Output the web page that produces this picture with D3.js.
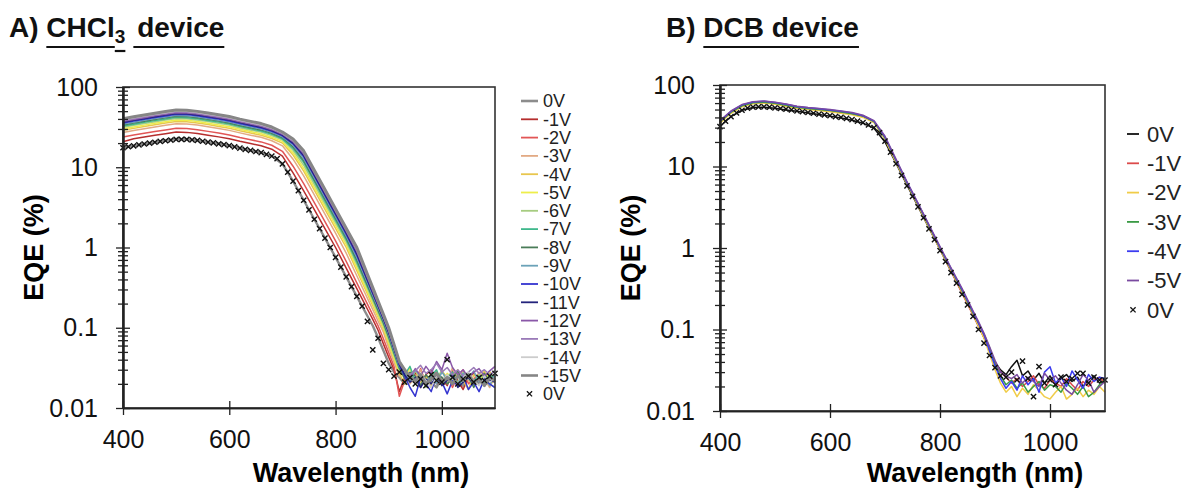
<!DOCTYPE html>
<html lang="en">
<head>
  <meta charset="UTF-8">
  <title>EQE vs wavelength</title>
  <script src="https://d3js.org/d3.v7.min.js"></script>
  <style>
    body { margin: 0; background: #fff; }
    svg { display: block; font-family: 'Liberation Sans', Arial, sans-serif; }
  </style>
</head>
<body>
  <svg id="chart" width="1197" height="489"></svg>

  <script>
    // wavelength grid of the line series (nm)
    const wavelength = [400,420,440,460,480,500,520,540,560,580,600,620,640,660,680,700,720,740,760,780,800,820,840,860,
      870,880,890,900,910,920,930,940,950,960,970,980,990,1000,1010,1020,1030,1040,1050,1060,1070,1080,1090,1100];
    // wavelength grid of the 0V marker series (nm)
    const wavelengthMarks = [400,410,420,430,440,450,460,470,480,490,500,510,520,530,540,550,560,570,580,590,600,610,620,630,640,
      650,660,670,680,690,700,710,720,730,740,750,760,770,780,790,800,810,820,830,840,850,860,870,880,890,900,910,920,930,940,
      950,960,970,980,990,1000,1010,1020,1030,1040,1050,1060,1070,1080,1090,1100];

    const xTicks = [400, 600, 800, 1000];
    const xTickLabels = ["400", "600", "800", "1000"];
    const yTicks = [0.01, 0.1, 1, 10, 100];
    const yTickLabels = ["0.01", "0.1", "1", "10", "100"];

    // ---- A) CHCl3 device, EQE (%) ----
    const voltsA = ["0V","-1V","-2V","-3V","-4V","-5V","-6V","-7V","-8V","-9V","-10V","-11V","-12V","-13V","-14V","-15V"];
    const a0V = [17.5,18.5,19.5,20.5,21.5,22.5,22.3,21.6,20.6,19.6,18.6,17.3,16.2,15.2,13.8,11.0,6.7,3.88,2.25,1.31,0.755,0.43,0.246,0.14,
      .106,.075,.052,.036,.028,.024,.02,.026,.022,.019,.025,.021,.018,.024,.02,.027,.021,.019,.025,.022,.02,.026,.021,.024];
    const a1V = [20.8,22.6,23.8,25,26.2,27.5,27.2,26.4,25.1,23.9,22.7,21.1,19.8,18.5,16.8,13.8,8.5,5.08,2.96,1.72,1.0,0.554,0.307,0.17,
      .127,.093,.063,.043,.03,.016,.024,.021,.028,.018,.026,.03,.02,.023,.019,.029,.022,.017,.024,.027,.021,.02,.028,.022];
    const a2V = [23.8,25.2,26.5,27.9,29.2,30.6,30.3,29.4,28,26.7,25.3,23.5,22,20.7,18.8,15.8,10.3,6.27,3.63,2.1,1.21,0.67,0.363,0.197,
      .145,.106,.073,.049,.033,.014,.022,.027,.02,.031,.019,.024,.028,.021,.026,.018,.025,.03,.02,.023,.027,.019,.024,.021];
    const a3V = [27.1,28.7,30.2,31.8,33.3,34.9,34.6,33.5,31.9,30.4,28.8,26.8,25.1,23.6,21.4,18.5,12.6,7.8,4.52,2.61,1.51,0.85,0.445,0.232,
      .168,.121,.088,.056,.037,.025,.029,.02,.024,.03,.022,.018,.027,.023,.021,.032,.019,.026,.022,.02,.028,.023,.018,.025];
    const a4V = [28.9,30.5,32.2,33.8,35.5,37.1,36.8,35.6,34,32.3,30.7,28.5,26.7,25.1,22.8,20,14.2,8.96,5.18,2.99,1.73,1.0,0.513,0.263,
      .188,.135,.096,.062,.041,.027,.02,.026,.03,.021,.025,.019,.023,.029,.024,.02,.027,.022,.017,.026,.023,.029,.02,.022];
    const a5V = [30.1,31.8,33.5,35.3,37,38.7,38.4,37.2,35.4,33.7,32,29.8,27.9,26.1,23.7,21,15.2,9.7,5.62,3.25,1.88,1.09,0.557,0.28,
      .199,.141,.1,.065,.042,.028,.024,.031,.022,.026,.02,.028,.024,.019,.027,.023,.03,.021,.025,.02,.026,.022,.028,.021];
    const a6V = [31.5,33.3,35.1,36.9,38.7,40.5,40.1,38.9,37.1,35.3,33.5,31.1,29.2,27.4,24.8,22,16.3,10.6,6.1,3.53,2.04,1.18,0.614,0.306,
      .215,.152,.107,.07,.045,.03,.025,.021,.029,.024,.018,.027,.022,.03,.02,.025,.021,.028,.023,.019,.026,.024,.02,.018];
    const a7V = [32.6,34.4,36.3,38.1,40,41.9,41.5,40.2,38.3,36.5,34.6,32.2,30.1,28.3,25.7,22.6,17.2,11.5,6.6,3.79,2.18,1.25,0.658,0.328,
      .231,.163,.115,.076,.048,.031,.026,.033,.022,.027,.021,.025,.03,.02,.024,.028,.019,.023,.027,.022,.025,.02,.026,.023];
    const a8V = [33.6,35.5,37.4,39.4,41.3,43.2,42.8,41.5,39.6,37.6,35.7,33.2,31.1,29.2,26.5,23.3,18,12.1,6.97,4.0,2.3,1.32,0.698,0.34,
      .237,.165,.116,.077,.049,.032,.023,.028,.025,.019,.026,.022,.027,.024,.02,.023,.029,.021,.025,.018,.024,.027,.021,.025];
    const a9V = [34.5,36.4,38.4,40.4,42.4,44.3,43.9,42.6,40.6,38.6,36.6,34.1,31.9,29.9,27.2,23.9,18.8,12.8,7.37,4.23,2.43,1.39,0.75,0.365,
      .255,.178,.124,.083,.052,.033,.027,.022,.03,.025,.021,.026,.02,.028,.023,.025,.02,.027,.024,.029,.021,.024,.019,.026];
    const a10V = [35.5,37.6,39.6,41.6,43.6,45.7,45.3,43.8,41.8,39.8,37.8,35.1,32.9,30.9,28,24.6,19.6,13.6,7.79,4.47,2.57,1.47,0.803,0.387,
      .268,.186,.129,.087,.055,.034,.025,.018,.014,.024,.02,.016,.026,.021,.015,.022,.019,.025,.017,.021,.016,.023,.02,.018];
    const a11V = [36.4,38.5,40.6,42.6,44.7,46.8,46.4,44.9,42.8,40.8,38.7,36,33.7,31.6,28.7,25.2,20,14,8.0,4.6,2.64,1.52,0.83,0.395,
      .273,.189,.13,.087,.055,.035,.026,.021,.024,.018,.023,.02,.025,.019,.022,.026,.018,.021,.024,.02,.023,.019,.022,.021];
    const a12V = [37.3,39.4,41.5,43.7,45.8,47.9,47.5,46,43.9,41.7,39.6,36.8,34.5,32.4,29.4,25.8,20.8,14.7,8.47,4.86,2.79,1.6,0.893,0.42,
      .288,.197,.135,.091,.057,.036,.029,.024,.031,.025,.033,.027,.038,.03,.048,.032,.026,.03,.024,.028,.031,.025,.029,.033];
    const a13V = [38.2,40.3,42.5,44.7,46.9,49.1,48.6,47.1,44.9,42.7,40.5,37.7,35.3,33.1,30.1,26.3,21.3,15.2,8.7,5.0,2.87,1.65,0.927,0.436,
      .299,.205,.14,.095,.059,.038,.03,.026,.029,.034,.027,.03,.036,.028,.032,.026,.03,.025,.028,.032,.027,.03,.026,.029];
    const a14V = [39,41.3,43.5,45.7,47.9,50.2,49.7,48.2,45.9,43.7,41.5,38.6,36.1,33.9,30.8,26.8,21.8,15.6,8.93,5.13,2.95,1.69,0.96,0.447,
      .309,.208,.141,.096,.06,.038,.031,.024,.02,.027,.022,.018,.025,.021,.026,.023,.02,.024,.028,.022,.019,.025,.021,.023];
    const a15V = [40.3,42.6,44.9,47.2,49.5,51.8,51.3,49.7,47.4,45.1,42.8,39.8,37.3,35,31.7,27.5,22.5,16,9.2,5.3,3.03,1.74,1.0,0.464,
      .316,.215,.147,.1,.062,.038,.03,.024,.022,.026,.02,.023,.027,.021,.024,.02,.025,.022,.026,.021,.023,.019,.024,.022];
    const aMarks0V = [17.5,18,18.5,19,19.5,20,20.5,21,21.4,21.8,22.2,22.3,22.2,21.9,21.6,21.1,20.6,20.1,19.6,19.1,
      18.6,17.9,17.3,16.7,16.2,15.7,15.2,14.5,13.8,12.8,11.0,8.7,6.7,5.1,3.88,2.95,2.25,1.72,1.31,1.0,
      0.755,0.57,0.43,0.325,0.246,0.186,0.12,0.053,0.074,0.036,0.03,0.025,0.028,0.021,0.024,0.02,0.023,0.019,0.026,0.022,
      0.021,0.04,0.024,0.02,0.023,0.025,0.021,0.024,0.022,0.025,0.027];

    // ---- B) DCB device, EQE (%) ----
    const voltsB = ["0V","-1V","-2V","-3V","-4V","-5V"];
    const b0V = [31,41,49,53,53.5,52,49.5,47.5,45.5,43.5,41.5,39.5,37,34,29.5,20,11,5.9,3.25,1.75,0.96,0.52,0.29,0.155,
      .11,.08,.055,.04,.032,.028,.035,.042,.027,.031,.024,.029,.022,.027,.021,.025,.028,.023,.026,.02,.024,.027,.022,.025];
    const b1V = [35,46,55,60,61,59,56,53,51,49.5,48,46,44,41,35,22,11.5,6.2,3.4,1.8,0.97,0.52,0.28,0.15,
      .11,.08,.058,.04,.03,.026,.022,.025,.02,.023,.027,.021,.019,.024,.022,.02,.025,.021,.018,.023,.02,.024,.026,.022];
    const b2V = [34,45,54,59,60,58,55,52,50,48.5,47,45,43,40,34.5,21.5,11.2,6.1,3.3,1.78,0.96,0.53,0.29,0.155,
      .11,.078,.05,.032,.022,.017,.02,.015,.019,.016,.021,.018,.015,.014,.017,.02,.014,.016,.019,.015,.018,.016,.02,.017];
    const b3V = [35.5,46.5,55.5,60.5,61.5,59.5,56.5,53.5,51.5,50,48.5,46.5,44.5,41.5,35.5,22.5,11.8,6.3,3.45,1.85,1.0,0.55,0.3,0.16,
      .12,.088,.06,.038,.027,.021,.024,.019,.022,.017,.02,.023,.018,.021,.02,.017,.022,.019,.016,.02,.015,.017,.021,.024];
    const b4V = [36,47.5,57,62,63,61,58,54.5,52.5,51,49.5,47.5,45.5,42,36,23,12,6.4,3.5,1.9,1.02,0.56,0.31,0.165,
      .12,.086,.055,.036,.025,.019,.023,.018,.027,.021,.025,.017,.03,.035,.022,.026,.02,.031,.024,.019,.028,.023,.026,.025];
    const b5V = [36.5,48,57.5,62.5,63.5,61.5,58.5,55,53,51.5,50,48,46,42.5,36.5,23.5,12.3,6.5,3.55,1.92,1.04,0.57,0.32,0.17,
      .125,.09,.062,.042,.03,.027,.025,.028,.022,.026,.023,.02,.029,.024,.027,.022,.018,.016,.021,.028,.024,.017,.02,.023];
    const bMarks0V = [30.8,36,41,45.5,49,52,53.5,54,54,53.5,52.5,51.5,50.5,49.5,48,47,46,45,44,43,
      42,41,40,39,37.5,36,34.5,32.5,30,26,20.5,15,10.8,7.8,5.8,4.3,3.2,2.35,1.72,1.27,
      0.93,0.68,0.5,0.37,0.27,0.2,0.145,0.1,0.068,0.048,0.034,0.027,0.026,0.03,0.024,0.041,0.025,0.015,0.035,0.022,
      0.024,0.021,0.026,0.023,0.025,0.029,0.029,0.022,0.026,0.024,0.024];

    // colours / widths (style only)
    const colorsA = ["#8c8c8c","#b52e2e","#e25656","#e2aa84","#e8c64e","#eeee4a","#a6cc80","#3fb88c","#4a7c58","#6ba2b8",
      "#3434d0","#23237c","#8a58a8","#9a7ab8","#cccccc","#868686"];
    const widthsA = [2.4,1.5,1.5,1.5,1.5,1.5,1.5,1.5,1.5,1.5,1.5,1.5,1.5,1.5,1.5,3];
    const colorsB = ["#111111","#dc4a4a","#f0cc48","#3a9a44","#3c3cf0","#7a4aa0"];
    const widthsB = [1.5,1.5,1.5,1.5,1.5,1.5];

    const svg = d3.select("#chart");
    const xMark = "M-2.6,-2.6L2.6,2.6M-2.6,2.6L2.6,-2.6";

    function drawPanel(p) {
      const x = d3.scaleLinear().domain([400, 1100]).range([p.left, p.right]);
      const y = d3.scaleLog().domain([0.01, 100]).range([p.bottom, p.top]);
      const g = svg.append("g");

      const line = d3.line().x(d => x(d[0])).y(d => y(d[1]));
      p.series.forEach((s, i) => {
        g.append("path")
          .datum(d3.zip(wavelength, s))
          .attr("d", line)
          .attr("fill", "none")
          .attr("stroke", p.colors[i])
          .attr("stroke-width", p.widths[i])
          .attr("stroke-linejoin", "round");
      });

      g.selectAll(null)
        .data(d3.zip(wavelengthMarks, p.marks))
        .join("path")
        .attr("transform", d => `translate(${x(d[0])},${y(d[1])})`)
        .attr("d", xMark)
        .attr("stroke", "#111")
        .attr("stroke-width", 1.4)
        .attr("fill", "none");

      // frame
      g.append("rect")
        .attr("x", p.left).attr("y", p.top)
        .attr("width", p.right - p.left).attr("height", p.bottom - p.top)
        .attr("fill", "none").attr("stroke", "#333").attr("stroke-width", 1.6);

      // log axis: major and minor ticks cross the axis line
      const minor = y.ticks().filter(v => Math.abs(Math.log10(v) - Math.round(Math.log10(v))) > 1e-6);
      const ax = (a, vals, size, labels) => {
        const sel = g.append("g").call(a.tickValues(vals).tickSize(size).tickSizeOuter(0)
          .tickFormat(labels ? (d, i) => labels[i] : ""));
        sel.select(".domain").attr("stroke", "#222").attr("stroke-width", 1.6);
        sel.selectAll(".tick line").attr("stroke", "#222").attr("stroke-width", 1.3);
        sel.attr("font-family", "'Liberation Sans', Arial, sans-serif").attr("font-size", 25);
        sel.selectAll("text").attr("fill", "#111");
        return sel;
      };
      ax(d3.axisLeft(y).tickPadding(18), yTicks, 7, yTickLabels).attr("transform", `translate(${p.left},0)`);
      ax(d3.axisRight(y), yTicks, 7).attr("transform", `translate(${p.left},0)`);
      ax(d3.axisLeft(y), minor, 5).attr("transform", `translate(${p.left},0)`);
      ax(d3.axisRight(y), minor, 5).attr("transform", `translate(${p.left},0)`);
      ax(d3.axisBottom(x).tickPadding(15), xTicks, 7, xTickLabels).attr("transform", `translate(0,${p.bottom})`);
      ax(d3.axisTop(x), xTicks, 7).attr("transform", `translate(0,${p.bottom})`);

      // axis titles
      svg.append("text")
        .attr("transform", `translate(${p.left - 80},${(p.top + p.bottom) / 2}) rotate(-90)`)
        .attr("text-anchor", "middle")
        .attr("font-weight", "bold").attr("font-size", 27)
        .text("EQE (%)");
      svg.append("text")
        .attr("x", p.xTitleX).attr("y", 482)
        .attr("text-anchor", "middle")
        .attr("font-weight", "bold").attr("font-size", 27)
        .text("Wavelength (nm)");

      // legend
      const lg = svg.append("g");
      p.legendNames.forEach((name, i) => {
        const ly = p.legY + i * p.legStep;
        lg.append("line")
          .attr("x1", p.legX).attr("x2", p.legX + p.legLen)
          .attr("y1", ly).attr("y2", ly)
          .attr("stroke", p.colors[i]).attr("stroke-width", p.widths[i] > 2 ? 2.6 : 1.8);
        lg.append("text")
          .attr("x", p.legX + p.legLen + p.legGap).attr("y", ly)
          .attr("dy", "0.35em").attr("font-size", p.legFont).attr("fill", "#222")
          .text(name);
      });
      const my = p.legY + p.legendNames.length * p.legStep;
      lg.append("path")
        .attr("transform", `translate(${p.legX + p.legLen / 2},${my})`)
        .attr("d", xMark).attr("stroke", "#111").attr("stroke-width", 1.3);
      lg.append("text")
        .attr("x", p.legX + p.legLen + p.legGap).attr("y", my)
        .attr("dy", "0.35em").attr("font-size", p.legFont).attr("fill", "#222")
        .text("0V");
    }

    // panel heading with underline and subscript
    function heading(x0, y0, pieces) {
      let cx = x0;
      pieces.forEach(pc => {
        const size = pc.sub ? 19 : 28;
        const yy = pc.sub ? y0 + 6 : y0;
        const t = svg.append("text")
          .attr("x", cx).attr("y", yy)
          .attr("font-weight", "bold").attr("font-size", size)
          .attr("fill", "#111")
          .style("white-space", "pre")
          .text(pc.t);
        const w = t.node().getComputedTextLength();
        if (pc.u) {
          const lead = pc.t.startsWith(" ") ? 4 : 0;
          svg.append("line")
            .attr("x1", cx + lead).attr("x2", cx + w)
            .attr("y1", yy + (pc.sub ? 8 : 10)).attr("y2", yy + (pc.sub ? 8 : 10))
            .attr("stroke", "#111").attr("stroke-width", 2.2);
        }
        cx += w + (pc.sub ? 4 : 0);
      });
    }

    drawPanel({
      left: 123, right: 495, top: 87, bottom: 408, xTitleX: 361,
      series: [a0V,a1V,a2V,a3V,a4V,a5V,a6V,a7V,a8V,a9V,a10V,a11V,a12V,a13V,a14V,a15V],
      marks: aMarks0V, colors: colorsA, widths: widthsA, legendNames: voltsA,
      legX: 521, legLen: 17, legGap: 5, legY: 101, legStep: 18.3, legFont: 18
    });
    drawPanel({
      left: 720, right: 1105, top: 85, bottom: 411, xTitleX: 975,
      series: [b0V,b1V,b2V,b3V,b4V,b5V],
      marks: bMarks0V, colors: colorsB, widths: widthsB, legendNames: voltsB,
      legX: 1127, legLen: 12, legGap: 8, legY: 134, legStep: 29.3, legFont: 22
    });

    heading(9, 37, [{t: "A) "}, {t: "CHCl", u: true}, {t: "3", u: true, sub: true}, {t: " device", u: true}]);
    heading(666, 37, [{t: "B) "}, {t: "DCB device", u: true}]);
  </script>
</body>
</html>
